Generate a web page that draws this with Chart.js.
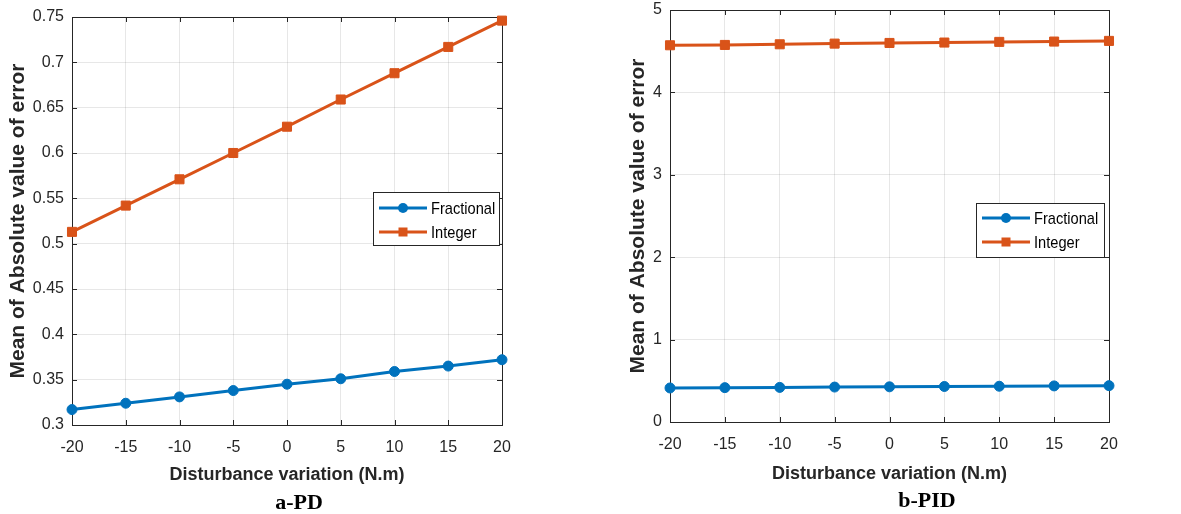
<!DOCTYPE html>
<html>
<head>
<meta charset="utf-8">
<script src="https://cdn.jsdelivr.net/npm/chart.js"></script>
<style>
  body { margin: 0; background: #fff; width: 1181px; height: 514px; position: relative; overflow: hidden; }
  canvas { position: absolute; top: 0; }
  #c1 { left: 0; }
  #c2 { left: 600px; }
  .caption { position: absolute; font: bold 22px "Liberation Serif", "Times New Roman", serif; color: #000; transform: translate(-50%, -50%); white-space: nowrap; }
</style>
</head>
<body>
<canvas id="c1" width="530" height="490"></canvas>
<canvas id="c2" width="540" height="490"></canvas>
<div class="caption" style="left:299px; top:502px;">a-PD</div>
<div class="caption" style="left:927px; top:500px;">b-PID</div>
<script>
// data
const disturbance = [-20, -15, -10, -5, 0, 5, 10, 15, 20];
const xTicks = [-20, -15, -10, -5, 0, 5, 10, 15, 20];

const pdFractional = [0.317, 0.324, 0.331, 0.338, 0.345, 0.351, 0.359, 0.365, 0.372];
const pdInteger = [0.513, 0.542, 0.571, 0.600, 0.629, 0.659, 0.688, 0.717, 0.746];
const pdTicks = [0.3, 0.35, 0.4, 0.45, 0.5, 0.55, 0.6, 0.65, 0.7, 0.75];

const pidFractional = [0.413, 0.417, 0.420, 0.424, 0.427, 0.431, 0.434, 0.438, 0.441];
const pidInteger = [4.572, 4.576, 4.584, 4.592, 4.600, 4.605, 4.613, 4.617, 4.625];
const pidTicks = [0, 1, 2, 3, 4, 5];

const seriesNames = ['Fractional', 'Integer'];
const BLUE = '#0072BD';
const ORANGE = '#D95319';
const INK = '#262626';
const SANS = '"Liberation Sans", Arial, sans-serif';

// box around the axes plus inward tick marks on all four sides
const matlabBox = {
  id: 'matlabBox',
  beforeDatasetsDraw(chart) {
    const { ctx, chartArea: a, scales } = chart;
    ctx.save();
    ctx.strokeStyle = INK;
    ctx.lineWidth = 1;
    ctx.beginPath();
    scales.x.ticks.forEach(t => {
      const px = Math.round(scales.x.getPixelForValue(t.value)) + 0.5;
      ctx.moveTo(px, a.bottom); ctx.lineTo(px, a.bottom - 5);
      ctx.moveTo(px, a.top); ctx.lineTo(px, a.top + 5);
    });
    scales.y.ticks.forEach(t => {
      const py = Math.round(scales.y.getPixelForValue(t.value)) + 0.5;
      ctx.moveTo(a.left, py); ctx.lineTo(a.left + 5, py);
      ctx.moveTo(a.right, py); ctx.lineTo(a.right - 5, py);
    });
    ctx.stroke();
    ctx.strokeRect(Math.round(a.left) + 0.5, Math.round(a.top) + 0.5, Math.round(a.right - a.left), Math.round(a.bottom - a.top));
    ctx.restore();
  }
};

// legend drawn inside the plot area, like MATLAB's
const boxLegend = {
  id: 'boxLegend',
  afterDraw(chart, args, opts) {
    const { ctx, chartArea } = chart;
    const x = Math.round(chartArea.right - opts.right - opts.width);
    const y = Math.round(chartArea.top + opts.top);
    ctx.save();
    ctx.fillStyle = '#fff';
    ctx.fillRect(x, y, opts.width, opts.height);
    ctx.strokeStyle = INK;
    ctx.lineWidth = 1;
    ctx.strokeRect(x + 0.5, y + 0.5, opts.width, opts.height);
    chart.data.datasets.forEach((ds, i) => {
      const cy = y + opts.rowTop + i * 24;
      ctx.strokeStyle = ds.borderColor;
      ctx.lineWidth = ds.borderWidth;
      ctx.beginPath();
      ctx.moveTo(x + 6, cy);
      ctx.lineTo(x + 54, cy);
      ctx.stroke();
      ctx.fillStyle = ds.backgroundColor;
      if (ds.pointStyle === 'circle') {
        ctx.beginPath();
        ctx.arc(x + 30, cy, ds.pointRadius, 0, Math.PI * 2);
        ctx.fill();
      } else {
        ctx.fillRect(x + 30 - 4.5, cy - 4.5, 9, 9);
      }
      // MATLAB text is a bit narrower than Arial, squeeze it a little
      ctx.save();
      ctx.translate(x + 58, cy + 1);
      ctx.scale(0.86, 1);
      ctx.fillStyle = '#000';
      ctx.font = '17px ' + SANS;
      ctx.textBaseline = 'middle';
      ctx.textAlign = 'left';
      ctx.fillText(ds.label, 0, 0);
      ctx.restore();
    });
    ctx.restore();
  }
};

function buildChart(id, fractional, integer, yTicks, opt) {
  const ctx = document.getElementById(id).getContext('2d');
  const pts = arr => disturbance.map((d, i) => ({ x: d, y: arr[i] }));
  return new Chart(ctx, {
    type: 'line',
    data: {
      datasets: [{
        label: seriesNames[0],
        data: pts(fractional),
        borderColor: BLUE,
        backgroundColor: BLUE,
        borderWidth: 3,
        pointStyle: 'circle',
        pointRadius: 5,
        pointBorderWidth: 1,
        clip: false
      }, {
        label: seriesNames[1],
        data: pts(integer),
        borderColor: ORANGE,
        backgroundColor: ORANGE,
        borderWidth: 3,
        pointStyle: 'rect',
        pointRadius: 6.4,
        pointBorderWidth: 1,
        clip: false
      }]
    },
    options: {
      responsive: false,
      animation: false,
      layout: { padding: opt.padding },
      plugins: {
        legend: { display: false },
        tooltip: { enabled: false },
        boxLegend: opt.legend
      },
      scales: {
        x: {
          type: 'linear',
          min: xTicks[0],
          max: xTicks[xTicks.length - 1],
          afterBuildTicks: s => { s.ticks = xTicks.map(v => ({ value: v })); },
          afterFit: s => { s.height = opt.xHeight; s.paddingLeft = 0; s.paddingRight = 0; },
          grid: { color: 'rgba(38,38,38,0.11)', drawTicks: false },
          border: { display: false },
          ticks: {
            color: INK,
            padding: 13,
            maxRotation: 0,
            font: { family: SANS, size: 16 },
            callback: v => String(v)
          },
          title: {
            display: true,
            text: 'Disturbance variation (N.m)',
            color: INK,
            font: { family: SANS, size: 18, weight: 'bold' },
            padding: { top: 0, bottom: opt.xTitlePad }
          }
        },
        y: {
          type: 'linear',
          min: yTicks[0],
          max: yTicks[yTicks.length - 1],
          afterBuildTicks: s => { s.ticks = yTicks.map(v => ({ value: v })); },
          afterFit: s => { s.width = opt.yWidth; s.paddingTop = 0; s.paddingBottom = 0; },
          grid: { color: 'rgba(38,38,38,0.11)', drawTicks: false },
          border: { display: false },
          ticks: {
            color: INK,
            padding: 8,
            font: { family: SANS, size: 16 },
            callback: v => String(Number(v.toFixed(2)))
          },
          title: {
            display: true,
            text: 'Mean of Absolute value of error',
            color: INK,
            font: { family: SANS, size: 21, weight: 'bold' },
            padding: { top: opt.yTitlePad, bottom: 0 }
          }
        }
      }
    },
    plugins: [matlabBox, boxLegend]
  });
}

buildChart('c1', pdFractional, pdInteger, pdTicks, {
  padding: { top: 17, right: 28, left: 0, bottom: 0 },
  yWidth: 72, xHeight: 65, xTitlePad: 4, yTitlePad: 6,
  legend: { right: 3, top: 175, width: 126, height: 53, rowTop: 16 }
});

buildChart('c2', pidFractional, pidInteger, pidTicks, {
  padding: { top: 10, right: 31, left: 0, bottom: 0 },
  yWidth: 70, xHeight: 68, xTitlePad: 5, yTitlePad: 26,
  legend: { right: 5, top: 193, width: 128, height: 54, rowTop: 15 }
});
</script>
</body>
</html>
